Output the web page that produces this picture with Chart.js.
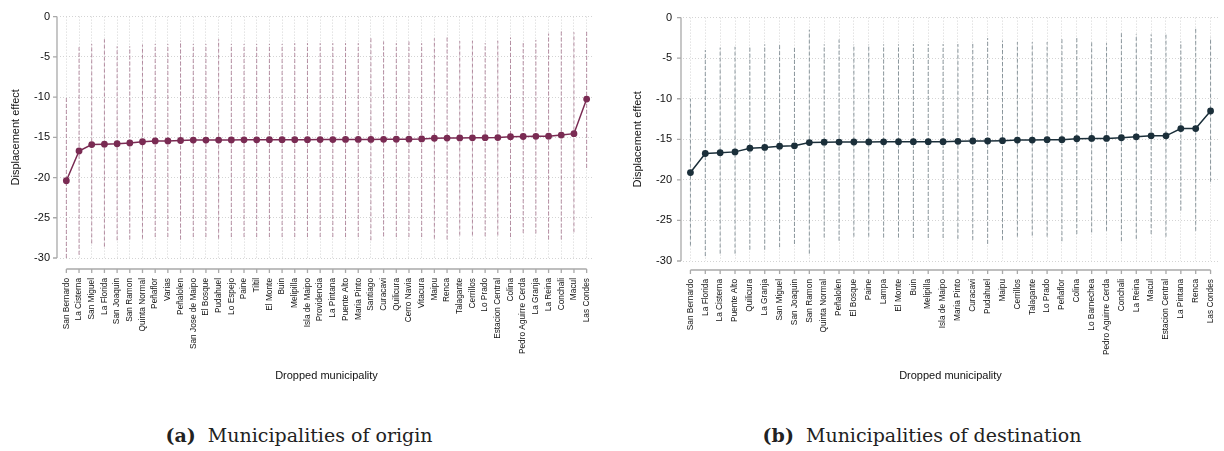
<!DOCTYPE html>
<html>
<head>
<meta charset="utf-8">
<script src="https://cdn.jsdelivr.net/npm/chart.js@4"></script>
<style>
  body { margin: 0; width: 1224px; height: 451px; background: #fff; position: relative; overflow: hidden; }
  .panel { position: absolute; top: 0; width: 612px; height: 400px; }
  .caption { position: absolute; top: 424px; font-family: "DejaVu Serif", serif; font-size: 19px; color: #222; white-space: nowrap; transform: translateX(-50%); }
  .caption b { font-weight: bold; }
</style>
</head>
<body>
<div class="panel" style="left:0"><canvas id="origen" width="612" height="400"></canvas></div>
<div class="panel" style="left:612px"><canvas id="destino" width="612" height="400"></canvas></div>
<div class="caption" style="left:299px"><b>(a)</b>&nbsp; Municipalities of origin</div>
<div class="caption" style="left:922px"><b>(b)</b>&nbsp; Municipalities of destination</div>

<script>
// Comunas de origen
const originLabels = ["San Bernardo", "La Cisterna", "San Miguel", "La Florida", "San Joaquin", "San Ramon",
  "Quinta Normal", "Peñaflor", "Varias", "Peñalolen", "San Jose de Maipo", "El Bosque", "Pudahuel",
  "Lo Espejo", "Paine", "Tiltil", "El Monte", "Buin", "Melipilla", "Isla de Maipo", "Providencia",
  "La Pintana", "Puente Alto", "Maria Pinto", "Santiago", "Curacavi", "Quilicura", "Cerro Navia",
  "Vitacura", "Maipu", "Renca", "Talagante", "Cerrillos", "Lo Prado", "Estacion Central", "Colina",
  "Pedro Aguirre Cerda", "La Granja", "La Reina", "Conchali", "Macul", "Las Condes"];
const originEffect = [-20.4, -16.7, -15.9, -15.85, -15.8, -15.7, -15.55, -15.45, -15.45, -15.4, -15.35,
  -15.35, -15.35, -15.33, -15.32, -15.32, -15.3, -15.3, -15.3, -15.3, -15.28, -15.28, -15.27, -15.27,
  -15.26, -15.25, -15.24, -15.23, -15.2, -15.12, -15.1, -15.08, -15.07, -15.05, -15.03, -14.92, -14.9,
  -14.88, -14.86, -14.72, -14.55, -10.25];
const originLow = [-30.0, -29.6, -28.2, -28.6, -27.8, -27.7, -27.6, -27.4, -27.4, -27.7, -27.4, -27.4,
  -27.6, -27.4, -27.4, -27.4, -27.4, -27.4, -27.4, -27.4, -27.4, -27.4, -27.4, -27.4, -27.8, -27.3,
  -27.4, -27.4, -27.4, -27.6, -27.7, -27.2, -27.2, -27.3, -27.2, -27.4, -26.9, -26.95, -27.7, -27.7,
  -26.8, -18.8];
const originHigh = [-10.1, -3.8, -3.4, -2.8, -3.7, -3.7, -3.5, -3.4, -3.4, -3.0, -3.4, -3.4, -2.8, -3.4,
  -3.4, -3.4, -3.4, -3.4, -3.3, -3.3, -3.3, -3.3, -3.3, -3.3, -2.6, -3.1, -3.3, -3.1, -3.3, -2.7, -2.5,
  -3.05, -3.0, -3.3, -3.0, -2.6, -3.3, -2.9, -2.1, -1.7, -1.95, -1.7];

// Comunas de destino
const destLabels = ["San Bernardo", "La Florida", "La Cisterna", "Puente Alto", "Quilicura", "La Granja",
  "San Miguel", "San Joaquin", "San Ramon", "Quinta Normal", "Peñalolen", "El Bosque", "Paine", "Lampa",
  "El Monte", "Buin", "Melipilla", "Isla de Maipo", "Maria Pinto", "Curacavi", "Pudahuel", "Maipu",
  "Cerrillos", "Talagante", "Lo Prado", "Peñaflor", "Colina", "Lo Barnechea", "Pedro Aguirre Cerda",
  "Conchali", "La Reina", "Macul", "Estacion Central", "La Pintana", "Renca", "Las Condes"];
const destEffect = [-19.1, -16.75, -16.65, -16.55, -16.1, -16.0, -15.85, -15.8, -15.4, -15.36, -15.34,
  -15.33, -15.32, -15.31, -15.3, -15.29, -15.29, -15.29, -15.25, -15.21, -15.21, -15.17, -15.09, -15.09,
  -15.05, -15.05, -14.93, -14.89, -14.89, -14.81, -14.69, -14.57, -14.57, -13.68, -13.68, -11.51];
const destLow = [-28.1, -29.4, -29.1, -29.1, -28.6, -28.6, -28.3, -27.9, -29.1, -27.1, -27.5, -27.0,
  -27.0, -27.1, -27.1, -27.16, -27.16, -27.16, -27.28, -27.4, -27.89, -27.4, -27.0, -26.88, -27.0,
  -27.56, -26.68, -26.48, -26.28, -27.56, -27.28, -26.68, -27.0, -23.78, -26.28, -20.24];
const destHigh = [-10.0, -4.0, -3.7, -3.6, -3.6, -3.3, -3.3, -3.7, -1.5, -3.3, -2.7, -3.3, -3.3, -3.3,
  -3.3, -3.26, -3.26, -3.26, -3.26, -3.02, -2.53, -2.82, -3.02, -3.02, -3.02, -2.45, -2.53, -3.02,
  -3.14, -1.93, -2.05, -2.05, -1.93, -2.94, -1.13, -2.45];

const yTicks = [0, -5, -10, -15, -20, -25, -30];

// ejes estilo stata: separados del area del grafico
const stataAxes = {
  id: 'stataAxes',
  afterDraw(chart, args, opts) {
    const { ctx, chartArea, scales: { x, y } } = chart;
    const ax = chartArea.left - opts.gapY;
    const ay = chartArea.bottom + opts.gapX;
    const n = chart.data.labels.length;
    ctx.save();
    ctx.strokeStyle = '#a9a9a9';
    ctx.lineWidth = 1.3;
    ctx.beginPath();
    ctx.moveTo(ax, y.getPixelForValue(yTicks[0]));
    ctx.lineTo(ax, y.getPixelForValue(yTicks[yTicks.length - 1]));
    yTicks.forEach(v => {
      const py = y.getPixelForValue(v);
      ctx.moveTo(ax, py);
      ctx.lineTo(ax - 4, py);
    });
    ctx.moveTo(x.getPixelForValue(0), ay);
    ctx.lineTo(x.getPixelForValue(n - 1), ay);
    for (let i = 0; i < n; i++) {
      const px = x.getPixelForValue(i);
      ctx.moveTo(px, ay);
      ctx.lineTo(px, ay + 4);
    }
    ctx.stroke();
    ctx.restore();
  }
};

function makeChart(id, labels, effect, low, high, color, ciColor, dims) {
  const ciSets = labels.map((lab, i) => ({
    data: [{ x: lab, y: low[i] }, { x: lab, y: high[i] }],
    borderColor: ciColor,
    borderWidth: 1,
    borderDash: [4, 2],
    pointRadius: 0,
    order: 2
  }));

  return new Chart(document.getElementById(id), {
    type: 'line',
    data: {
      labels: labels,
      datasets: [{
        data: effect,
        borderColor: color,
        backgroundColor: color,
        borderWidth: 1.5,
        pointRadius: 3.4,
        pointBorderWidth: 0,
        tension: 0,
        order: 0
      }].concat(ciSets)
    },
    options: {
      responsive: false,
      animation: false,
      events: [],
      layout: { padding: { top: 12, right: dims.right, left: 0, bottom: 0 } },
      plugins: {
        legend: { display: false },
        tooltip: { enabled: false },
        stataAxes: { gapY: dims.gapY, gapX: dims.gapX }
      },
      scales: {
        x: {
          type: 'category',
          offset: true,
          afterFit: s => { s.height = dims.xHeight; },
          // marcas invisibles: solo separan las etiquetas del area
          grid: { color: '#d4d4d4', drawTicks: true, tickLength: dims.xPad, tickColor: 'rgba(0,0,0,0)' },
          border: { display: false, dash: [1, 2] },
          ticks: {
            autoSkip: false, minRotation: 90, maxRotation: 90, padding: 0,
            color: '#111', font: { family: 'Liberation Sans', size: 8.3 }
          },
          title: {
            display: true, text: 'Dropped municipality', color: '#111',
            font: { family: 'Liberation Sans', size: 11 }, padding: { bottom: 17 }
          }
        },
        y: {
          min: -30, max: 0,
          afterFit: s => { s.width = dims.yWidth; },
          afterBuildTicks: s => { s.ticks = yTicks.map(v => ({ value: v })); },
          grid: { color: '#d4d4d4', drawTicks: false },
          border: { display: false, dash: [1, 2] },
          ticks: {
            padding: dims.yPad, color: '#111',
            font: { family: 'Liberation Sans', size: 11 }
          },
          title: {
            display: true, text: 'Displacement effect', color: '#111',
            font: { family: 'Liberation Sans', size: 11 }, padding: { top: dims.titlePad }
          }
        }
      }
    },
    plugins: [stataAxes]
  });
}

makeChart('origen', originLabels, originEffect, originLow, originHigh,
  '#7a2b53', 'rgba(122,43,83,0.5)',
  { right: 19, yWidth: 60, xHeight: 142, xPad: 20, yPad: 10, titlePad: 9.5, gapY: 3, gapX: 11 });

makeChart('destino', destLabels, destEffect, destLow, destHigh,
  '#1b2f3a', 'rgba(70,90,100,0.6)',
  { right: 6, yWidth: 71, xHeight: 139, xPad: 18, yPad: 11, titlePad: 19, gapY: 2, gapX: 9 });
</script>
</body>
</html>
